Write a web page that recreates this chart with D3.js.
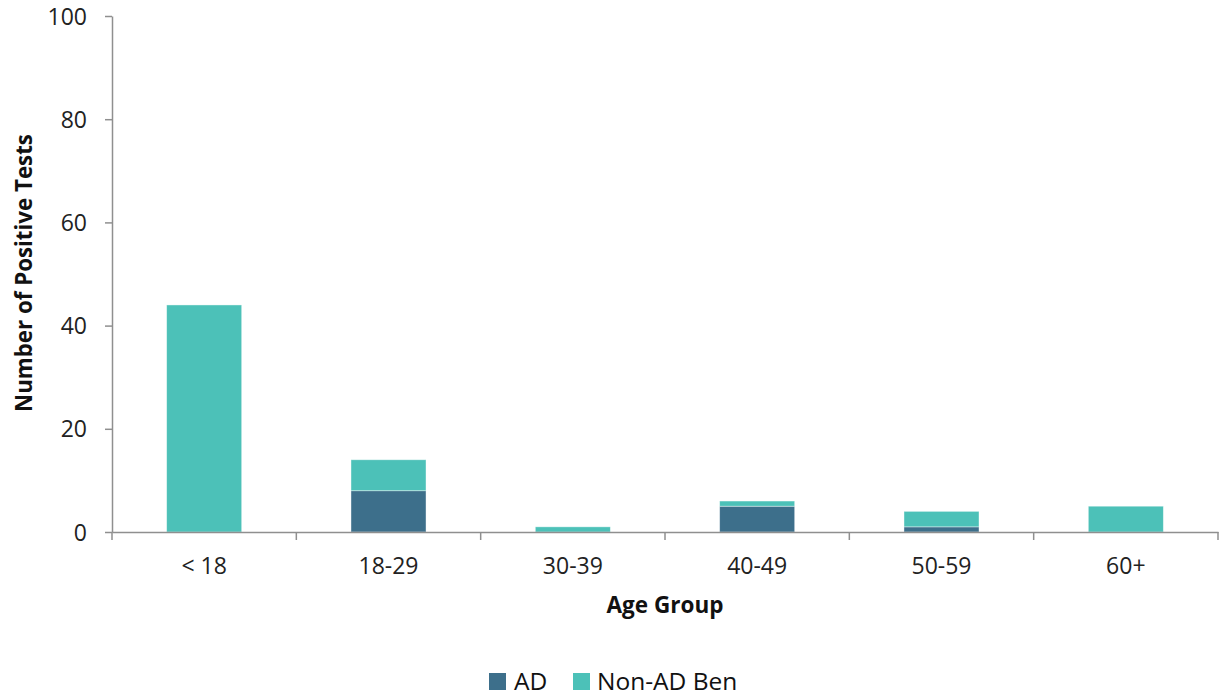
<!DOCTYPE html>
<html><head><meta charset="utf-8">
<script src="https://cdn.jsdelivr.net/npm/d3@7"></script>
<style>html,body{margin:0;padding:0;background:#fff;} svg{display:block;}</style>
</head><body>
<svg id="chart" width="1221" height="700"></svg>
<script>
const categories = ["< 18", "18-29", "30-39", "40-49", "50-59", "60+"];
const seriesNames = ["AD", "Non-AD Ben"];
const adValues = [0, 8, 0, 5, 1, 0];
const nonAdValues = [44, 6, 1, 1, 3, 5];
const yTicks = [0, 20, 40, 60, 80, 100];
const colors = ["#3D6F8B", "#4CC1B8"];

const svg = d3.select("#chart");
const font = "'Open Sans', sans-serif";
const plotLeft = 112, plotRight = 1218, plotTop = 16, plotBottom = 532;

const x = d3.scaleBand().domain(categories).range([plotLeft, plotRight]).padding(0);
const y = d3.scaleLinear().domain([0, 100]).range([plotBottom, plotTop]);

const rows = categories.map((c, i) => ({cat: c, AD: adValues[i], "Non-AD Ben": nonAdValues[i]}));
const stacked = d3.stack().keys(seriesNames)(rows);
const barW = x.bandwidth() * 0.407;

svg.append("g").selectAll("g").data(stacked).join("g")
  .attr("fill", (d, i) => colors[i])
  .selectAll("rect").data(d => d.filter(s => s[1] - s[0] > 0)).join("rect")
  .attr("x", d => x(d.data.cat) + (x.bandwidth() - barW) / 2)
  .attr("width", barW)
  .attr("y", d => y(d[1]))
  .attr("height", d => y(d[0]) - y(d[1]))
  .attr("stroke", "#ffffff").attr("stroke-opacity", 0.5).attr("stroke-width", 0.8);

// Y axis
const yAxis = svg.append("g").attr("transform", `translate(${plotLeft},0)`)
  .call(d3.axisLeft(y).tickValues(yTicks).tickSize(7).tickPadding(10).tickSizeOuter(0));
yAxis.select(".domain").attr("stroke", "#8f8f8f").attr("stroke-width", 1.5);
yAxis.selectAll(".tick line").attr("stroke", "#8f8f8f").attr("stroke-width", 1.5);
yAxis.selectAll(".tick text").attr("font-family", font).attr("font-size", 23).attr("fill", "#222")
  .attr("dy", "0.35em").attr("x", -25);

// X axis
const xAxis = svg.append("g").attr("transform", `translate(0,${plotBottom})`)
  .call(d3.axisBottom(x).tickSize(0).tickPadding(26).tickSizeOuter(0));
xAxis.select(".domain").attr("stroke", "#8f8f8f").attr("stroke-width", 1.5);
xAxis.selectAll(".tick text").attr("font-family", font).attr("font-size", 23).attr("fill", "#222");
const bounds = categories.map(c => x(c)).concat([plotRight]);
xAxis.selectAll(".sep").data(bounds).join("line").attr("class", "sep")
  .attr("x1", d => d).attr("x2", d => d).attr("y1", 0).attr("y2", 8)
  .attr("stroke", "#8f8f8f").attr("stroke-width", 1.5);

// Axis titles
svg.append("text").attr("x", (plotLeft + plotRight) / 2 + 0).attr("y", 613)
  .attr("text-anchor", "middle").attr("font-family", font).attr("font-weight", "bold")
  .attr("font-size", 22.5).attr("fill", "#111").text("Age Group");
svg.append("text").attr("transform", `translate(32,273) rotate(-90)`)
  .attr("text-anchor", "middle").attr("font-family", font).attr("font-weight", "bold")
  .attr("font-size", 22.3).attr("fill", "#111").text("Number of Positive Tests");

// Legend
const legendItems = [{name: seriesNames[0], sx: 489, tx: 514}, {name: seriesNames[1], sx: 573, tx: 597}];
const lg = svg.append("g");
legendItems.forEach((d, i) => {
  lg.append("rect").attr("x", d.sx).attr("y", 673).attr("width", 17).attr("height", 17).attr("fill", colors[i]);
  lg.append("text").attr("x", d.tx).attr("y", 690).attr("font-family", font).attr("font-size", 24.5)
    .attr("fill", "#111").text(d.name);
});
</script>
</body></html>
